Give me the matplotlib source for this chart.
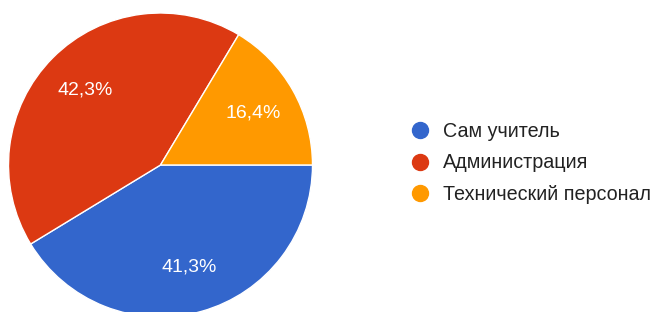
import matplotlib.pyplot as plt
from matplotlib.lines import Line2D

plt.rcParams['font.family'] = ['Liberation Sans', 'DejaVu Sans']

labels = ["Сам учитель", "Администрация", "Технический персонал"]
shares = [41.3, 42.3, 16.4]
colors = ["#3366CC", "#DC3912", "#FF9900"]

fig = plt.figure(figsize=(6.59, 3.12), dpi=100)
ax = fig.add_axes([8 / 659, -5 / 312, 305 / 659, 304 / 312])

wedges, texts, autotexts = ax.pie(
    shares, colors=colors, startangle=0, counterclock=False,
    autopct=lambda p: f"{p:.1f}%".replace(".", ","), pctdistance=0.7,
    wedgeprops=dict(edgecolor="white", linewidth=1),
    textprops=dict(color="white", fontsize=14),
    radius=1,
)
ax.set_xlim(-1, 1)
ax.set_ylim(-1, 1)
ax.set_aspect("equal")

handles = [Line2D([0], [0], marker="o", linestyle="", markersize=11.5,
                  markerfacecolor=c, markeredgecolor=c) for c in colors]
fig.legend(handles, labels, loc="center left", bbox_to_anchor=(398 / 659, 1 - 163 / 312),
           frameon=False, fontsize=14.2, handletextpad=0.6, labelspacing=0.62,
           handlelength=1.2, borderpad=0, labelcolor="#222222")

fig.savefig("out.png", dpi=100)
